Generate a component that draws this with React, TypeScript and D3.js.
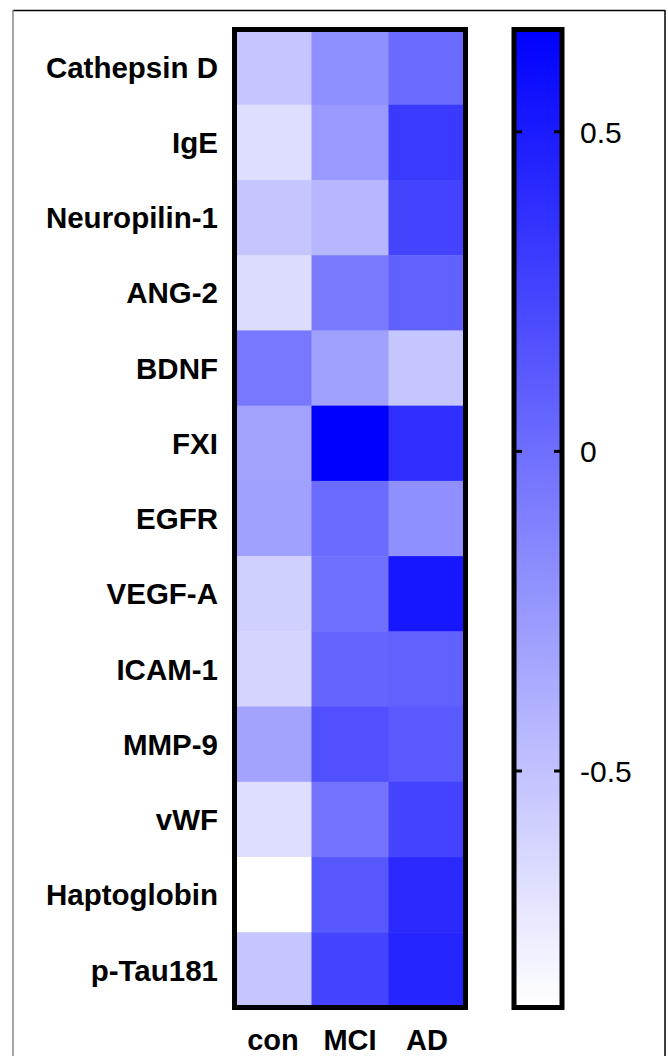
import React from "react";
import * as d3 from "d3";

const proteins = [
  "Cathepsin D", "IgE", "Neuropilin-1", "ANG-2", "BDNF", "FXI", "EGFR",
  "VEGF-A", "ICAM-1", "MMP-9", "vWF", "Haptoglobin", "p-Tau181",
];
const groups = ["con", "MCI", "AD"];

const conValues = [-0.52, -0.67, -0.53, -0.66, -0.06, -0.32, -0.30, -0.59, -0.61, -0.32, -0.67, -0.87, -0.52];
const mciValues = [-0.20, -0.26, -0.44, -0.07, -0.30, 0.66, 0.02, -0.01, 0.06, 0.18, -0.03, 0.13, 0.25];
const adValues = [0.02, 0.31, 0.25, 0.08, -0.52, 0.38, -0.20, 0.52, 0.08, 0.12, 0.25, 0.41, 0.44];

const colorMin = -0.87;
const colorMax = 0.66;
const colorTicks = [-0.5, 0, 0.5];
const colorTickLabels = ["-0.5", "0", "0.5"];

const W = 668;
const H = 1056;
const hm = { x0: 234.5, x1: 465.5, y0: 29.5, y1: 1007.5 };
const cb = { x0: 514, x1: 562 };

export default function App() {
  const series = [conValues, mciValues, adValues];
  const x = d3.scaleBand<string>().domain(groups).range([hm.x0, hm.x1]);
  const y = d3.scaleBand<string>().domain(proteins).range([hm.y0, hm.y1]);
  const color = d3
    .scaleLinear<string>()
    .domain([colorMin, colorMax])
    .range(["#ffffff", "#0000ff"])
    .interpolate(d3.interpolateRgb);
  const cy = d3.scaleLinear().domain([colorMin, colorMax]).range([hm.y1, hm.y0]);
  const stops = d3.range(0, 1.0001, 0.1);

  return (
    <svg
      width={W}
      height={H}
      style={{ position: "absolute", left: 0, top: 0, background: "#fff" }}
      fontFamily="Liberation Sans, Arial, sans-serif"
    >
      <defs>
        <linearGradient id="cbgrad" x1="0" y1="1" x2="0" y2="0">
          {stops.map((s) => (
            <stop key={s} offset={s} stopColor={color(colorMin + s * (colorMax - colorMin))} />
          ))}
        </linearGradient>
      </defs>
      <rect x={0} y={0} width={W} height={H} fill="#fff" />
      {/* outer border */}
      <line x1={13} y1={10.5} x2={665} y2={10.5} stroke="#000" strokeWidth={1.5} />
      <line x1={13} y1={10} x2={13} y2={H} stroke="#888" strokeWidth={1.5} />
      <line x1={665} y1={10} x2={665} y2={H} stroke="#000" strokeWidth={1.5} />

      {/* cells */}
      {series.map((vals, gi) =>
        vals.map((v, pi) => (
          <rect
            key={`${gi}-${pi}`}
            x={x(groups[gi])!}
            y={y(proteins[pi])!}
            width={x.bandwidth() + 0.5}
            height={y.bandwidth() + 0.5}
            fill={color(v)}
          />
        ))
      )}
      <rect
        x={hm.x0}
        y={hm.y0}
        width={hm.x1 - hm.x0}
        height={hm.y1 - hm.y0}
        fill="none"
        stroke="#000"
        strokeWidth={5}
      />

      {/* row labels */}
      {proteins.map((p) => (
        <text
          key={p}
          x={218}
          y={y(p)! + y.bandwidth() / 2}
          dy="0.36em"
          textAnchor="end"
          fontWeight="bold"
          fontSize={29.5}
          fill="#000"
        >
          {p}
        </text>
      ))}

      {/* column labels */}
      {groups.map((g) => (
        <text
          key={g}
          x={x(g)! + x.bandwidth() / 2}
          y={1050}
          textAnchor="middle"
          fontWeight="bold"
          fontSize={29}
          fill="#000"
        >
          {g}
        </text>
      ))}

      {/* colorbar */}
      <rect x={cb.x0} y={hm.y0} width={cb.x1 - cb.x0} height={hm.y1 - hm.y0} fill="url(#cbgrad)" />
      {colorTicks.map((t, i) => (
        <g key={t}>
          <line x1={cb.x0} x2={cb.x0 + 8} y1={cy(t)} y2={cy(t)} stroke="#000" strokeWidth={3} />
          <line x1={cb.x1 - 8} x2={cb.x1} y1={cy(t)} y2={cy(t)} stroke="#000" strokeWidth={3} />
          <text x={580} y={cy(t)} dy="0.36em" fontSize={30} fill="#000">
            {colorTickLabels[i]}
          </text>
        </g>
      ))}
      <rect
        x={cb.x0}
        y={hm.y0}
        width={cb.x1 - cb.x0}
        height={hm.y1 - hm.y0}
        fill="none"
        stroke="#000"
        strokeWidth={5}
      />
    </svg>
  );
}
